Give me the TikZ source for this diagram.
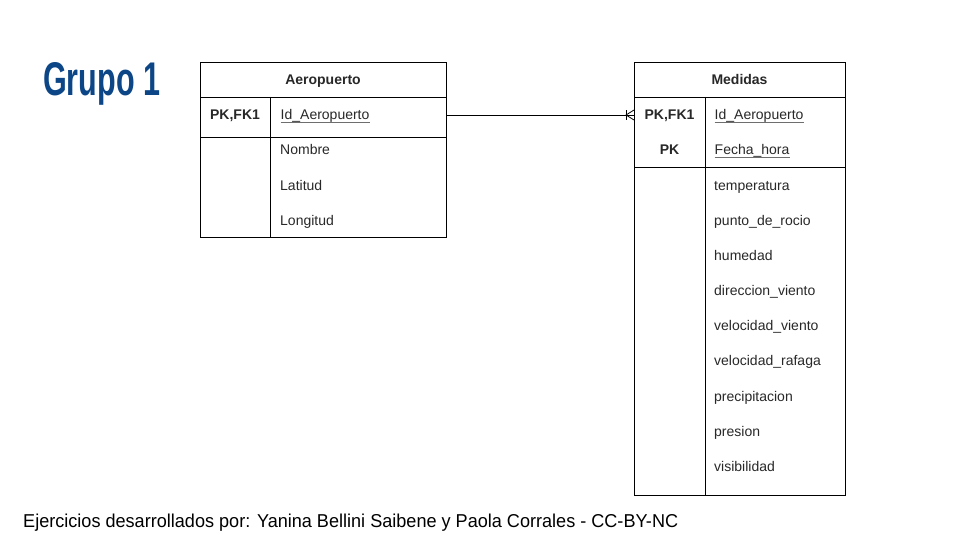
\documentclass[tikz,border=0pt]{standalone}
\usepackage{fontspec}
\setmainfont{Liberation Sans}
\definecolor{titleblue}{RGB}{12,70,135}
\definecolor{txt}{RGB}{40,40,40}
\definecolor{ulgray}{RGB}{110,110,110}
\newcommand{\ulk}[1]{\tikz[baseline=(t.base)]{\node[inner sep=0pt,text=txt] (t) {#1}; \draw[ulgray,line width=0.6pt] ([yshift=-2.4pt]t.base west) -- ([yshift=-2.4pt]t.base east);}}
\begin{document}
\begin{tikzpicture}[x=1pt,y=-1pt,
  tbl/.style={draw=black,line width=0.8pt,anchor=north west,inner sep=0pt},
  sep/.style={black,line width=0.8pt},
  hdr/.style={font=\fontsize{14}{16}\selectfont\bfseries,text=txt,anchor=base,inner sep=0pt},
  keyt/.style={font=\fontsize{14}{16}\selectfont\bfseries,text=txt,anchor=base,inner sep=0pt},
  attr/.style={font=\fontsize{14}{16}\selectfont,text=txt,anchor=base west,inner sep=0pt},
  rel/.style={black,line width=0.8pt}]
\useasboundingbox[fill=white] (0,0) rectangle (960,540);

% title
\node[anchor=base west,inner sep=0pt,text=titleblue] (title) at (43,96) {\resizebox{117pt}{33pt}{\bfseries Grupo 1}};

% Aeropuerto table
\node[tbl,minimum width=246pt,minimum height=175pt] (aero) at (200,62) {};
\draw[sep] (200,97) -- (446,97);
\draw[sep] (200,137) -- (446,137);
\draw[sep] (270,97) -- (270,237);
\node[hdr] (aeroh) at (323,84.5) {Aeropuerto};
\node[keyt] (aerok) at (235,120) {PK,FK1};
\node[attr] (aeroid) at (280,120) {\ulk{Id\_Aeropuerto}};
\node[attr] (aeron) at (280,155) {Nombre};
\node[attr] (aerolat) at (280,190) {Latitud};
\node[attr] (aerolon) at (280,225) {Longitud};

% Medidas table
\node[tbl,minimum width=211pt,minimum height=433pt] (med) at (634,62) {};
\draw[sep] (634,97) -- (845,97);
\draw[sep] (634,167) -- (845,167);
\draw[sep] (705,97) -- (705,495);
\node[hdr] (medh) at (739.5,84.5) {Medidas};
\node[keyt] (medk1) at (669.5,120) {PK,FK1};
\node[keyt] (medk2) at (669.5,155) {PK};
\node[attr] (medid) at (714,120) {\ulk{Id\_Aeropuerto}};
\node[attr] (medfh) at (714,155) {\ulk{Fecha\_hora}};
\node[attr] (m1) at (714,190) {temperatura};
\node[attr] (m2) at (714,225) {punto\_de\_rocio};
\node[attr] (m3) at (714,260) {humedad};
\node[attr] (m4) at (714,295) {direccion\_viento};
\node[attr] (m5) at (714,330) {velocidad\_viento};
\node[attr] (m6) at (714,365) {velocidad\_rafaga};
\node[attr] (m7) at (714,401) {precipitacion};
\node[attr] (m8) at (714,436) {presion};
\node[attr] (m9) at (714,471) {visibilidad};

% relationship
\coordinate (ra) at (446,115);
\coordinate (rb) at (634,115);
\coordinate (rf) at ([xshift=-8pt]rb);
\draw[rel] (ra) -- (rb);
\draw[rel] ([yshift=-5pt]rf) -- ([yshift=5pt]rf);
\draw[rel] ([yshift=-5pt]rb) -- (rf) -- ([yshift=5pt]rb);

% footer
\node[anchor=base west,inner sep=0pt,text=black] (foot) at (23,527) {\resizebox{655pt}{13.5pt}{\fontsize{17}{20}\selectfont Ejercicios desarrollados por: Yanina Bellini Saibene y Paola Corrales - CC-BY-NC}};
\end{tikzpicture}
\end{document}
